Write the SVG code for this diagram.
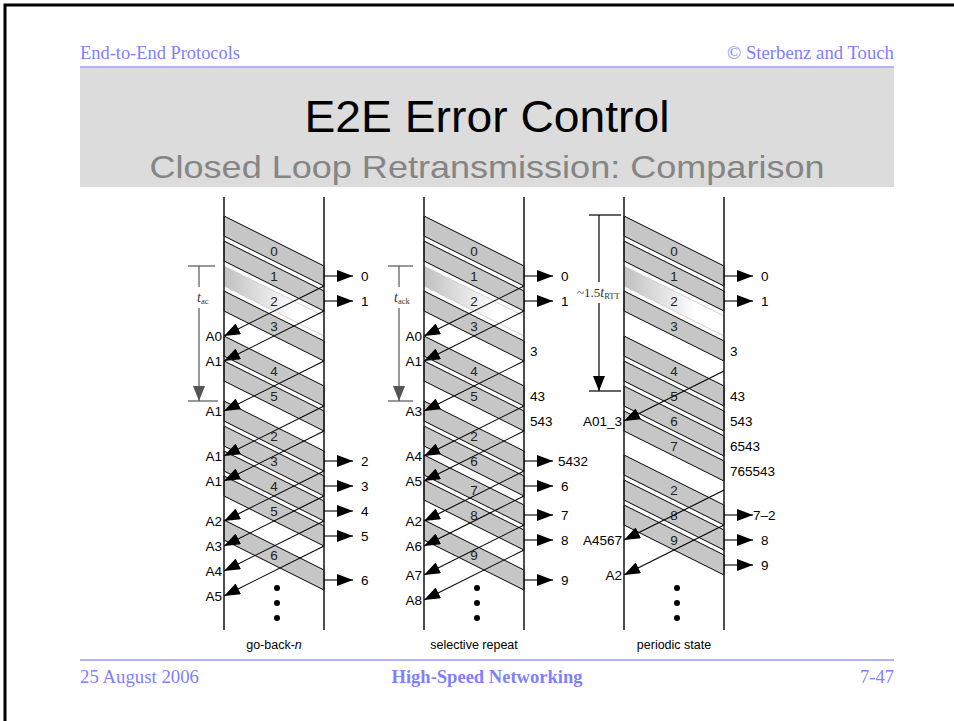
<svg xmlns="http://www.w3.org/2000/svg" width="954" height="721" viewBox="0 0 954 721">
<style>
.hdr{font-family:"Liberation Serif","Times New Roman",serif;font-size:18.5px;fill:#8080ff}
.title{font-family:"Liberation Sans",Arial,sans-serif;font-size:44px;fill:#000}
.sub{font-family:"Liberation Sans",Arial,sans-serif;font-size:32px;fill:#858585}
.band{fill:#c6c6c6;stroke:#000;stroke-width:1}
.lost{fill:url(#lostg);stroke:#c8c8c8;stroke-width:0.8}
.lane{stroke:#222;stroke-width:1.6}
.ack{stroke:#000;stroke-width:1.1;fill:none;marker-end:url(#ah)}
.dlv{stroke:#000;stroke-width:1.1;fill:none;marker-end:url(#ah)}
.t{font-family:"Liberation Sans",Arial,sans-serif;font-size:13.5px;fill:#000}
.bl{font-family:"Liberation Sans",Arial,sans-serif;font-size:13.5px;fill:#222;text-anchor:middle}
.r{text-anchor:end}
.brk{stroke:#555;stroke-width:1.2;fill:none}
.brk3{stroke:#000;stroke-width:1.2;fill:none}
.tm{font-family:"Liberation Serif","Times New Roman",serif;fill:#333}
.cap{font-family:"Liberation Sans",Arial,sans-serif;font-size:12.5px;fill:#000;text-anchor:middle}
</style>
<defs>
<linearGradient id="lostg" x1="0" y1="0" x2="1" y2="0">
<stop offset="0" stop-color="#c0c0c0"/>
<stop offset="0.72" stop-color="#ffffff"/>
<stop offset="1" stop-color="#ffffff"/>
</linearGradient>
<marker id="ah" viewBox="0 0 16 12" refX="16" refY="6" markerWidth="16" markerHeight="12" markerUnits="userSpaceOnUse" orient="auto">
<path d="M0,0 L16,6 L0,12 z" fill="#000"/>
</marker>
<marker id="ahg" viewBox="0 0 15 12" refX="15" refY="6" markerWidth="15" markerHeight="12" markerUnits="userSpaceOnUse" orient="auto">
<path d="M0,0 L15,6 L0,12 z" fill="#555"/>
</marker>
<marker id="ahk" viewBox="0 0 15 12" refX="15" refY="6" markerWidth="15" markerHeight="12" markerUnits="userSpaceOnUse" orient="auto">
<path d="M0,0 L15,6 L0,12 z" fill="#000"/>
</marker>
</defs>
<rect x="0" y="0" width="954" height="721" fill="#fff"/>
<g id="frame">
<path d="M5,721 V5 H954" fill="none" stroke="#000" stroke-width="3"/>
</g>
<g id="header">
<text class="hdr" x="80" y="59" textLength="160" lengthAdjust="spacingAndGlyphs">End-to-End Protocols</text>
<text class="hdr r" x="894" y="59" textLength="167" lengthAdjust="spacingAndGlyphs">© Sterbenz and Touch</text>
<rect x="80" y="66" width="814" height="2" fill="#b3b3ff"/>
<rect x="80" y="68" width="814" height="119" fill="#dcdcdc"/>
<text class="title" x="487" y="132" text-anchor="middle" textLength="365" lengthAdjust="spacingAndGlyphs">E2E Error Control</text>
<text class="sub" x="487" y="178" text-anchor="middle" textLength="675" lengthAdjust="spacingAndGlyphs">Closed Loop Retransmission: Comparison</text>
</g>

<g id="panel-gbn">
<g id="gbn-bands">
<polygon class="band" points="224,216 324,266 324,286 224,236"/>
<polygon class="band" points="224,241 324,291 324,311 224,261"/>
<polygon class="lost" points="224,266 324,316 324,336 224,286"/>
<polygon class="band" points="224,291 324,341 324,361 224,311"/>
<polygon class="band" points="224,336 324,386 324,406 224,356"/>
<polygon class="band" points="224,361 324,411 324,431 224,381"/>
<polygon class="band" points="224,401 324,451 324,471 224,421"/>
<polygon class="band" points="224,426 324,476 324,496 224,446"/>
<polygon class="band" points="224,451 324,501 324,521 224,471"/>
<polygon class="band" points="224,476 324,526 324,546 224,496"/>
<polygon class="band" points="224,520 324,570 324,590 224,540"/>
</g>
<g id="gbn-bandlabels">
<text class="bl" x="274" y="256">0</text>
<text class="bl" x="274" y="281">1</text>
<text class="bl" x="274" y="306">2</text>
<text class="bl" x="274" y="331">3</text>
<text class="bl" x="274" y="376">4</text>
<text class="bl" x="274" y="401">5</text>
<text class="bl" x="274" y="441">2</text>
<text class="bl" x="274" y="466">3</text>
<text class="bl" x="274" y="491">4</text>
<text class="bl" x="274" y="516">5</text>
<text class="bl" x="274" y="560">6</text>
</g>
<g id="gbn-timer">
<line class="brk" x1="188" y1="266" x2="215" y2="266"/>
<line class="brk" x1="188" y1="401" x2="218" y2="401"/>
<line class="brk" x1="199" y1="266" x2="199" y2="287"/>
<line class="brk" x1="199" y1="308" x2="199" y2="401" marker-end="url(#ahg)"/>
<text class="tm" x="197" y="302"><tspan font-style="italic" font-size="14">t</tspan><tspan font-size="8.5" dy="2">ac</tspan></text>
</g>
<line class="lane" x1="224" y1="197" x2="224" y2="630"/>
<line class="lane" x1="324" y1="197" x2="324" y2="630"/>
<g id="gbn-ackl">
<text class="t r" x="222" y="341">A0</text>
<text class="t r" x="222" y="366">A1</text>
<text class="t r" x="222" y="416">A1</text>
<text class="t r" x="222" y="461">A1</text>
<text class="t r" x="222" y="486">A1</text>
<text class="t r" x="222" y="526">A2</text>
<text class="t r" x="222" y="551">A3</text>
<text class="t r" x="222" y="576">A4</text>
<text class="t r" x="222" y="601">A5</text>
</g>
<g id="gbn-dlvl">
<text class="t" x="361" y="281">0</text>
<text class="t" x="361" y="306">1</text>
<text class="t" x="361" y="466">2</text>
<text class="t" x="361" y="491">3</text>
<text class="t" x="361" y="516">4</text>
<text class="t" x="361" y="541">5</text>
<text class="t" x="361" y="585">6</text>
</g>
<g id="gbn-dots" fill="#000">
<circle cx="277" cy="588" r="3"/><circle cx="277" cy="603" r="3"/><circle cx="277" cy="618" r="3"/>
</g>
<text class="cap" x="274" y="649">go-back-<tspan font-style="italic">n</tspan></text>
</g>

<g id="panel-sr">
<g id="sr-bands">
<polygon class="band" points="424,216 524,266 524,286 424,236"/>
<polygon class="band" points="424,241 524,291 524,311 424,261"/>
<polygon class="lost" points="424,266 524,316 524,336 424,286"/>
<polygon class="band" points="424,291 524,341 524,361 424,311"/>
<polygon class="band" points="424,336 524,386 524,406 424,356"/>
<polygon class="band" points="424,361 524,411 524,431 424,381"/>
<polygon class="band" points="424,401 524,451 524,471 424,421"/>
<polygon class="band" points="424,426 524,476 524,496 424,446"/>
<polygon class="band" points="424,455 524,505 524,525 424,475"/>
<polygon class="band" points="424,480 524,530 524,550 424,500"/>
<polygon class="band" points="424,520 524,570 524,590 424,540"/>
</g>
<g id="sr-bandlabels">
<text class="bl" x="474" y="256">0</text>
<text class="bl" x="474" y="281">1</text>
<text class="bl" x="474" y="306">2</text>
<text class="bl" x="474" y="331">3</text>
<text class="bl" x="474" y="376">4</text>
<text class="bl" x="474" y="401">5</text>
<text class="bl" x="474" y="441">2</text>
<text class="bl" x="474" y="466">6</text>
<text class="bl" x="474" y="495">7</text>
<text class="bl" x="474" y="520">8</text>
<text class="bl" x="474" y="560">9</text>
</g>
<g id="sr-timer">
<line class="brk" x1="388" y1="266" x2="413" y2="266"/>
<line class="brk" x1="388" y1="401" x2="413" y2="401"/>
<line class="brk" x1="399" y1="266" x2="399" y2="287"/>
<line class="brk" x1="399" y1="308" x2="399" y2="401" marker-end="url(#ahg)"/>
<text class="tm" x="394" y="302"><tspan font-style="italic" font-size="14">t</tspan><tspan font-size="8.5" dy="2">ack</tspan></text>
</g>
<line class="lane" x1="424" y1="197" x2="424" y2="630"/>
<line class="lane" x1="524" y1="197" x2="524" y2="630"/>
<g id="sr-ackl">
<text class="t r" x="422" y="341">A0</text>
<text class="t r" x="422" y="366">A1</text>
<text class="t r" x="422" y="416">A3</text>
<text class="t r" x="422" y="461">A4</text>
<text class="t r" x="422" y="486">A5</text>
<text class="t r" x="422" y="526">A2</text>
<text class="t r" x="422" y="551">A6</text>
<text class="t r" x="422" y="580">A7</text>
<text class="t r" x="422" y="605">A8</text>
</g>
<g id="sr-dlvl">
<text class="t" x="561" y="281">0</text>
<text class="t" x="561" y="306">1</text>
<text class="t" x="530" y="356">3</text>
<text class="t" x="530" y="401">43</text>
<text class="t" x="530" y="426">543</text>
<text class="t" x="558" y="466">5432</text>
<text class="t" x="561" y="491">6</text>
<text class="t" x="561" y="520">7</text>
<text class="t" x="561" y="545">8</text>
<text class="t" x="561" y="585">9</text>
</g>
<g id="sr-dots" fill="#000">
<circle cx="477" cy="588" r="3"/><circle cx="477" cy="603" r="3"/><circle cx="477" cy="618" r="3"/>
</g>
<text class="cap" x="474" y="649">selective repeat</text>
</g>

<g id="panel-ps">
<g id="ps-bands">
<polygon class="band" points="624,216 724,266 724,286 624,236"/>
<polygon class="band" points="624,241 724,291 724,311 624,261"/>
<polygon class="lost" points="624,266 724,316 724,336 624,286"/>
<polygon class="band" points="624,291 724,341 724,361 624,311"/>
<polygon class="band" points="624,336 724,386 724,406 624,356"/>
<polygon class="band" points="624,361 724,411 724,431 624,381"/>
<polygon class="band" points="624,386 724,436 724,456 624,406"/>
<polygon class="band" points="624,411 724,461 724,481 624,431"/>
<polygon class="band" points="624,455 724,505 724,525 624,475"/>
<polygon class="band" points="624,480 724,530 724,550 624,500"/>
<polygon class="band" points="624,505 724,555 724,575 624,525"/>
</g>
<g id="ps-bandlabels">
<text class="bl" x="674" y="256">0</text>
<text class="bl" x="674" y="281">1</text>
<text class="bl" x="674" y="306">2</text>
<text class="bl" x="674" y="331">3</text>
<text class="bl" x="674" y="376">4</text>
<text class="bl" x="674" y="401">5</text>
<text class="bl" x="674" y="426">6</text>
<text class="bl" x="674" y="451">7</text>
<text class="bl" x="674" y="495">2</text>
<text class="bl" x="674" y="520">8</text>
<text class="bl" x="674" y="545">9</text>
</g>
<g id="ps-timer">
<line class="brk3" x1="589" y1="215" x2="621" y2="215"/>
<line class="brk3" x1="589" y1="391" x2="621" y2="391"/>
<line class="brk3" x1="599" y1="215" x2="599" y2="282"/>
<line class="brk3" x1="599" y1="303" x2="599" y2="391" marker-end="url(#ahk)"/>
<text class="tm" x="577" y="297" fill="#000"><tspan font-size="13">~1.5</tspan><tspan font-style="italic" font-size="14">t</tspan><tspan font-size="8.5" dy="2">RTT</tspan></text>
</g>
<line class="lane" x1="624" y1="197" x2="624" y2="630"/>
<line class="lane" x1="724" y1="197" x2="724" y2="630"/>
<g id="ps-ackl">
<text class="t r" x="622" y="426">A01_3</text>
<text class="t r" x="622" y="545">A4567</text>
<text class="t r" x="622" y="580">A2</text>
</g>
<g id="ps-dlvl">
<text class="t" x="761" y="281">0</text>
<text class="t" x="761" y="306">1</text>
<text class="t" x="730" y="356">3</text>
<text class="t" x="730" y="401">43</text>
<text class="t" x="730" y="426">543</text>
<text class="t" x="730" y="451">6543</text>
<text class="t" x="730" y="476">765543</text>
<text class="t" x="753" y="520">7–2</text>
<text class="t" x="761" y="545">8</text>
<text class="t" x="761" y="570">9</text>
</g>
<g id="ps-dots" fill="#000">
<circle cx="677" cy="588" r="3"/><circle cx="677" cy="603" r="3"/><circle cx="677" cy="618" r="3"/>
</g>
<text class="cap" x="674" y="649">periodic state</text>
</g>

<g id="connectors">
<line class="ack" x1="324" y1="286" x2="224" y2="336"/>
<line class="ack" x1="324" y1="311" x2="224" y2="361"/>
<line class="ack" x1="324" y1="361" x2="224" y2="411"/>
<line class="ack" x1="324" y1="406" x2="224" y2="456"/>
<line class="ack" x1="324" y1="431" x2="224" y2="481"/>
<line class="ack" x1="324" y1="471" x2="224" y2="521"/>
<line class="ack" x1="324" y1="496" x2="224" y2="546"/>
<line class="ack" x1="324" y1="521" x2="224" y2="571"/>
<line class="ack" x1="324" y1="546" x2="224" y2="596"/>
<line class="dlv" x1="324" y1="276" x2="353" y2="276"/>
<line class="dlv" x1="324" y1="301" x2="353" y2="301"/>
<line class="dlv" x1="324" y1="461" x2="353" y2="461"/>
<line class="dlv" x1="324" y1="486" x2="353" y2="486"/>
<line class="dlv" x1="324" y1="511" x2="353" y2="511"/>
<line class="dlv" x1="324" y1="536" x2="353" y2="536"/>
<line class="dlv" x1="324" y1="580" x2="353" y2="580"/>

<line class="ack" x1="524" y1="286" x2="424" y2="336"/>
<line class="ack" x1="524" y1="311" x2="424" y2="361"/>
<line class="ack" x1="524" y1="361" x2="424" y2="411"/>
<line class="ack" x1="524" y1="406" x2="424" y2="456"/>
<line class="ack" x1="524" y1="431" x2="424" y2="481"/>
<line class="ack" x1="524" y1="471" x2="424" y2="521"/>
<line class="ack" x1="524" y1="496" x2="424" y2="546"/>
<line class="ack" x1="524" y1="525" x2="424" y2="575"/>
<line class="ack" x1="524" y1="550" x2="424" y2="600"/>
<line class="dlv" x1="524" y1="276" x2="553" y2="276"/>
<line class="dlv" x1="524" y1="301" x2="553" y2="301"/>
<line class="dlv" x1="524" y1="461" x2="553" y2="461"/>
<line class="dlv" x1="524" y1="486" x2="553" y2="486"/>
<line class="dlv" x1="524" y1="515" x2="553" y2="515"/>
<line class="dlv" x1="524" y1="540" x2="553" y2="540"/>
<line class="dlv" x1="524" y1="580" x2="553" y2="580"/>

<line class="ack" x1="724" y1="371" x2="624" y2="421"/>
<line class="ack" x1="724" y1="490" x2="624" y2="540"/>
<line class="ack" x1="724" y1="525" x2="624" y2="575"/>
<line class="dlv" x1="724" y1="276" x2="753" y2="276"/>
<line class="dlv" x1="724" y1="301" x2="753" y2="301"/>
<line class="dlv" x1="724" y1="515" x2="753" y2="515"/>
<line class="dlv" x1="724" y1="540" x2="753" y2="540"/>
<line class="dlv" x1="724" y1="565" x2="753" y2="565"/>
</g>

<g id="footer">
<rect x="80" y="659" width="814" height="2" fill="#b3b3ff"/>
<text class="hdr" x="80" y="683" textLength="119" lengthAdjust="spacingAndGlyphs">25 August 2006</text>
<text class="hdr" x="487" y="683" text-anchor="middle" font-weight="bold" textLength="191" lengthAdjust="spacingAndGlyphs">High-Speed Networking</text>
<text class="hdr r" x="894" y="683">7-47</text>
</g>
</svg>
